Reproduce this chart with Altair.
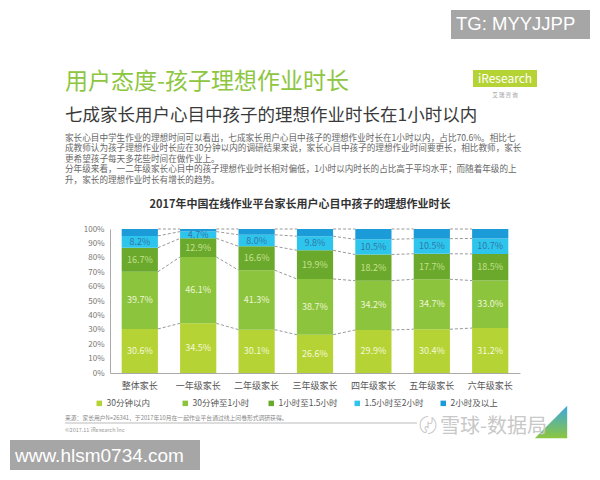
import altair as alt
import pandas as pd

FONT = "Noto Sans CJK SC"

categories = ["整体家长", "一年级家长", "二年级家长", "三年级家长", "四年级家长", "五年级家长", "六年级家长"]
series = ["30分钟以内", "30分钟至1小时", "1小时至1.5小时", "1.5小时至2小时", "2小时及以上"]
colors = ["#b5d334", "#8cc43e", "#6aa92c", "#2ec5ed", "#1b9bd7"]
label_colors = ["#f4f8dc", "#eef6d6", "#c4e08e", "#2f78a8", ""]

v_30min = [30.6, 34.5, 30.1, 26.6, 29.9, 30.4, 31.2]
v_30_60 = [39.7, 46.1, 41.3, 38.7, 34.2, 34.7, 33.0]
v_60_90 = [16.7, 12.9, 16.6, 19.9, 18.2, 17.7, 18.5]
v_90_120 = [8.2, 4.7, 8.0, 9.8, 10.5, 10.5, 10.7]
v_120p = [4.8, 1.8, 4.0, 5.0, 7.2, 6.7, 6.6]
y_ticks = [0, 10, 20, 30, 40, 50, 60, 70, 80, 90, 100]

values = [v_30min, v_30_60, v_60_90, v_90_120, v_120p]

rows = []
cum_tops = {c: [] for c in categories}
for ci, c in enumerate(categories):
    base = 0.0
    for si, s in enumerate(series):
        v = values[si][ci]
        rows.append({"cat": c, "series": s, "order": si, "value": v,
                     "start": base, "end": base + v, "mid": base + v / 2,
                     "label": f"{v:.1f}%", "lc": label_colors[si]})
        base += v
        cum_tops[c].append(base)
df = pd.DataFrame(rows)

conn = []
for k in range(len(series)):
    for i in range(len(categories) - 1):
        a, b = categories[i], categories[i + 1]
        conn.append({"cat": a, "next": b, "y": min(cum_tops[a][k], 100), "y2": min(cum_tops[b][k], 100)})
conn_df = pd.DataFrame(conn)

xaxis = alt.Axis(labelFont=FONT, labelFontSize=9, labelColor="#555", labelAngle=0,
                 ticks=False, domainColor="#aaa", labelPadding=8, title=None)
yaxis = alt.Axis(values=y_ticks, labelExpr="datum.value + '%'",
                 labelFont=FONT, labelFontSize=8, labelColor="#777", ticks=False,
                 grid=False, domainColor="#aaa", labelPadding=6, labelOverlap=False, title=None)
xscale = alt.Scale(domain=categories, paddingInner=0.38, paddingOuter=0.2)
yscale = alt.Scale(domain=[0, 100])

bars = alt.Chart(df).mark_bar().encode(
    x=alt.X("cat:N", sort=categories, scale=xscale, axis=xaxis),
    y=alt.Y("start:Q", scale=yscale, axis=yaxis),
    y2="end:Q",
    color=alt.Color("series:N", sort=series, scale=alt.Scale(domain=series, range=colors),
                    legend=alt.Legend(orient="none", legendX=-15, legendY=170, direction="horizontal",
                                      columns=5, gridAlign="all", title=None, symbolType="square",
                                      symbolSize=30, symbolStrokeWidth=0, labelFont=FONT,
                                      labelFontSize=8.5, labelColor="#555", columnPadding=15,
                                      padding=0, labelOffset=3)),
    order=alt.Order("order:Q"),
)

connectors = alt.Chart(conn_df).mark_rule(color="#999", strokeDash=[3, 2], strokeWidth=1).encode(
    x=alt.X("cat:N", sort=categories, bandPosition=1, scale=xscale, axis=xaxis),
    x2=alt.X2("next:N", bandPosition=0),
    y=alt.Y("y:Q", scale=yscale, axis=yaxis),
    y2="y2:Q",
)

labels = alt.Chart(df[df["lc"] != ""]).mark_text(font=FONT, fontSize=9).encode(
    x=alt.X("cat:N", sort=categories, scale=xscale, axis=xaxis),
    y=alt.Y("mid:Q", scale=yscale, axis=yaxis),
    text="label:N",
    color=alt.Color("lc:N", scale=None, legend=None),
)

one = pd.DataFrame({"a": [0]})
# origin at (110, 229)
def txt(s, x, y, size, color, weight="normal", align="left", baseline="middle", font=FONT, lh=None):
    kw = dict(text=s, fontSize=size, color=color, fontWeight=weight, align=align,
              baseline=baseline, font=font)
    if lh is not None:
        kw["lineHeight"] = lh
    return alt.Chart(one).mark_text(**kw).encode(x=alt.value(x), y=alt.value(y))

def box(x, x2, y, y2, color):
    return alt.Chart(one).mark_rect(color=color).encode(
        x=alt.value(x), x2=alt.value(x2), y=alt.value(y), y2=alt.value(y2))

header = txt("用户态度-孩子理想作业时长", -45, -147, 23, "#8dc63f")
subtitle = txt("七成家长用户心目中孩子的理想作业时长在1小时以内", -45, -113.5, 17.5, "#3a3a3a")
para = txt([
    "家长心目中学生作业的理想时间可以看出，七成家长用户心目中孩子的理想作业时长在1小时以内，占比70.6%。相比七",
    "成教师认为孩子理想作业时长应在30分钟以内的调研结果来说，家长心目中孩子的理想作业时间要更长，相比教师，家长",
    "更希望孩子每天多花些时间在做作业上。",
    "分年级来看，一二年级家长心目中的孩子理想作业时长相对偏低，1小时以内时长的占比高于平均水平；而随着年级的上",
    "升，家长的理想作业时长有增长的趋势。",
], -45, -95.5, 8.6, "#666", baseline="top", lh=10.6)
ctitle = txt("2017年中国在线作业平台家长用户心目中孩子的理想作业时长", 190, -24, 11, "#333",
             weight="bold", align="center")

logo_box = box(363, 427, -159, -142, "#b5d334")
logo_txt = txt("iResearch", 395, -150.5, 12, "white", align="center")
logo_sub = txt("艾  瑞  咨  询", 395, -134, 5.5, "#999", align="center")

tg_box = box(341, 480, -219, -190, "#a6a6a6")
tg_txt = txt("TG: MYYJJPP", 346, -205, 18.5, "white", font="Liberation Sans")
www_box = box(-100, 90, 211, 241, "#a6a6a6")
www_txt = txt("www.hlsm0734.com", -95, 227, 19, "white", font="Liberation Sans")

source = txt("来源：家长用户N=26341，于2017年10月在一起作业平台通过线上问卷形式调研获得。", -45, 189, 5.8, "#888")
sep = alt.Chart(one).mark_rule(color="#bbb", strokeWidth=1).encode(
    x=alt.value(-45), x2=alt.value(307), y=alt.value(194))
copy = txt("©2017.11 iResearch Inc", -45, 200.5, 5.5, "#999")

xq_icon = txt("〄", 318, 197.5, 18, "#c8c8c8", align="center")
xq_txt = txt("雪球-数据局", 330, 197.5, 20, "#c8c8c8")
tri = alt.Chart(one).mark_point(
    shape="M 1 -1 L 1 1 L -1 1 Z", filled=True, opacity=1, size=1050,
    color=alt.LinearGradient(gradient="linear", x1=0, y1=0, x2=0, y2=1,
                             stops=[alt.GradientStop(color="#3aa7e0", offset=0),
                                    alt.GradientStop(color="#8cc63f", offset=1)])
).encode(x=alt.value(441), y=alt.value(193))

chart = alt.layer(
    bars, connectors, labels,
    header, subtitle, para, ctitle, logo_box, logo_txt, logo_sub,
    source, sep, copy, tri, xq_icon, xq_txt,
    tg_box, tg_txt, www_box, www_txt,
).resolve_scale(color="independent").properties(
    width=410, height=144,
    autosize=alt.AutoSizeParams(type="none"),
    padding={"left": 110, "top": 229, "right": 80, "bottom": 107},
    background="white",
).configure_view(stroke=None)

chart.save("out.html", embed_options={"renderer": "svg", "actions": False})
